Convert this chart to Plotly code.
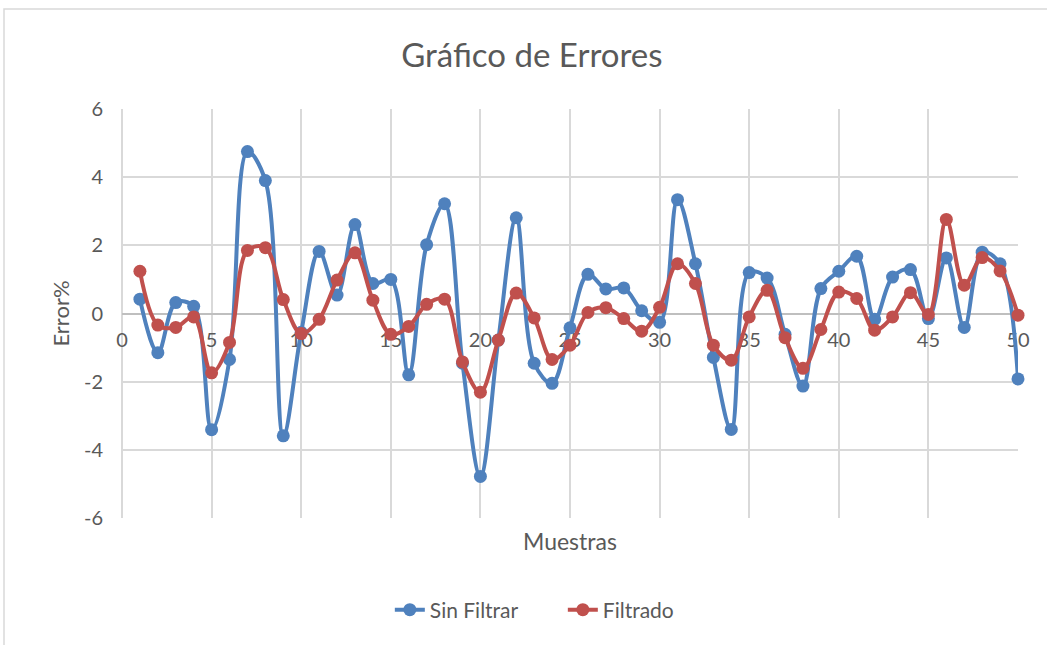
import plotly.graph_objects as go

muestras = list(range(1, 51))

sin_filtrar = [
    0.42, -1.15, 0.32, 0.21, -3.41, -1.35, 4.75, 3.90, -3.59, -0.55,
    1.82, 0.54, 2.61, 0.88, 1.00, -1.80, 2.02, 3.22, -1.46, -4.78,
    -0.78, 2.81, -1.46, -2.05, -0.42, 1.15, 0.72, 0.75, 0.08, -0.26,
    3.34, 1.46, -1.29, -3.40, 1.20, 1.04, -0.61, -2.13, 0.73, 1.24,
    1.68, -0.17, 1.07, 1.29, -0.15, 1.63, -0.41, 1.80, 1.46, -1.92,
]

filtrado = [
    1.24, -0.34, -0.41, -0.10, -1.74, -0.85, 1.85, 1.93, 0.41, -0.59,
    -0.17, 0.98, 1.78, 0.39, -0.61, -0.38, 0.27, 0.42, -1.42, -2.31,
    -0.78, 0.60, -0.13, -1.35, -0.93, 0.03, 0.17, -0.15, -0.52, 0.18,
    1.46, 0.88, -0.93, -1.37, -0.10, 0.68, -0.71, -1.61, -0.47, 0.63,
    0.44, -0.49, -0.10, 0.61, -0.03, 2.76, 0.83, 1.64, 1.25, -0.05,
]

y_ticks = [-6, -4, -2, 0, 2, 4, 6]
y_labels = ["-6", "-4", "-2", "0", "2", "4", "6"]

FONT = "Lato"
GRIS = "#595959"
GRID = "#d9d9d9"


def main():
    fig = go.Figure()
    fig.add_trace(go.Scatter(
        x=muestras, y=sin_filtrar, name="Sin Filtrar", mode="lines+markers",
        line=dict(color="#4f81bd", width=4, shape="spline", smoothing=1),
        marker=dict(color="#4f81bd", size=13), cliponaxis=False,
    ))
    fig.add_trace(go.Scatter(
        x=muestras, y=filtrado, name="Filtrado", mode="lines+markers",
        line=dict(color="#c0504d", width=4, shape="spline", smoothing=1),
        marker=dict(color="#c0504d", size=13), cliponaxis=False,
    ))

    fig.update_layout(
        width=1047, height=645,
        margin=dict(l=122, r=29, t=109, b=127),
        paper_bgcolor="white", plot_bgcolor="white",
        font=dict(family=FONT, color=GRIS, size=20),
        title=dict(text="Gráfico de Errores", x=0.508, xref="container",
                   y=1 - 55 / 645, yanchor="middle", xanchor="center",
                   font=dict(size=33, color=GRIS)),
        xaxis=dict(range=[0, 50], dtick=5, tick0=0, showgrid=True,
                   gridcolor=GRID, gridwidth=1.5, zeroline=True,
                   zerolinecolor=GRID, zerolinewidth=1.5,
                   anchor="free", position=0.5, showline=False,
                   ticks="", ticklabelstandoff=12, layer="below traces",
                   tickfont=dict(size=20, color=GRIS)),
        yaxis=dict(range=[-6, 6], tickvals=y_ticks, ticktext=y_labels,
                   showgrid=True, gridcolor=GRID, gridwidth=1.5,
                   zeroline=True, zerolinecolor="#bfbfbf", zerolinewidth=1.5,
                   showline=False, ticks="", ticklabelstandoff=18,
                   tickfont=dict(size=20, color=GRIS),
                   title=dict(text="Error%", standoff=8,
                              font=dict(size=22, color=GRIS))),
        legend=dict(orientation="h", x=0.492, xanchor="center",
                    y=-0.225, yanchor="middle", entrywidth=128,
                    font=dict(size=21, color=GRIS)),
        annotations=[dict(text="Muestras", xref="paper", yref="paper",
                          x=0.5, y=-0.056, yanchor="middle",
                          showarrow=False, font=dict(size=23, color=GRIS))],
        shapes=[dict(type="rect", xref="paper", yref="paper",
                     x0=-0.1317, x1=1.06, y0=-0.36, y1=1.2445,
                     line=dict(color=GRID, width=1.5), layer="below")],
    )

    fig.write_html("out.html", config={"displayModeBar": False},
                   post_script="document.body.style.margin='0';")


if __name__ == "__main__":
    main()
